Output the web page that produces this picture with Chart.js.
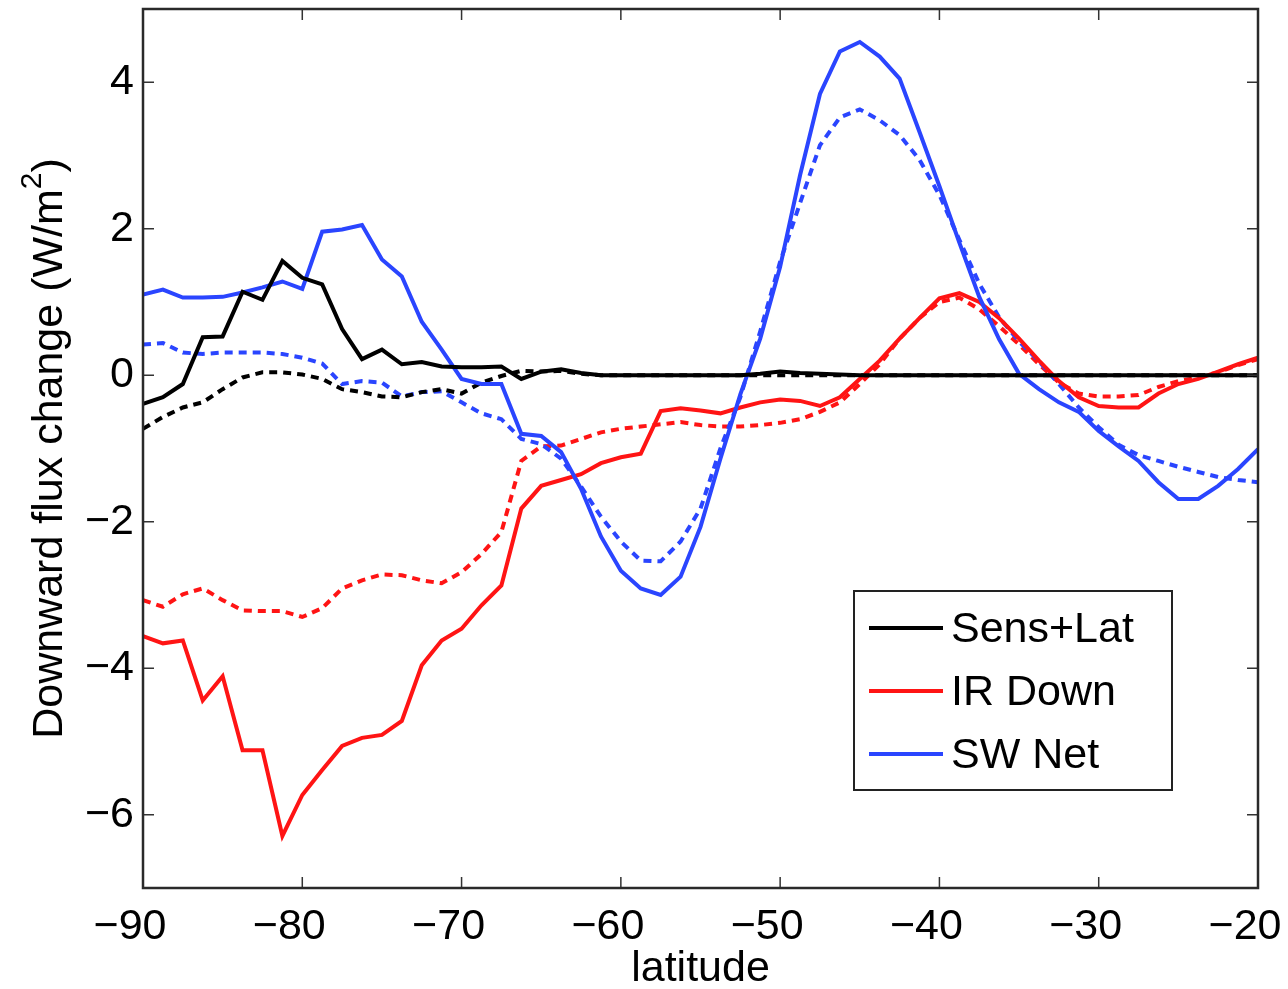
<!DOCTYPE html>
<html lang="en">
<head>
  <meta charset="UTF-8">
  <title>Downward flux change vs latitude</title>
  <script src="https://cdn.jsdelivr.net/npm/chart.js"></script>
  <style>
    html, body { margin: 0; padding: 0; background: #fff; }
    .contenedor { width: 1288px; height: 989px; position: relative; }
  </style>
</head>
<body>
  <div class="contenedor">
    <canvas id="grafico"></canvas>
  </div>

  <script>
    // latitudes (deg)
    const lats = [-90, -88.75, -87.5, -86.25, -85, -83.75, -82.5, -81.25, -80, -78.75,
      -77.5, -76.25, -75, -73.75, -72.5, -71.25, -70, -68.75, -67.5, -66.25,
      -65, -63.75, -62.5, -61.25, -60, -58.75, -57.5, -56.25, -55, -53.75,
      -52.5, -51.25, -50, -48.75, -47.5, -46.25, -45, -43.75, -42.5, -41.25,
      -40, -38.75, -37.5, -36.25, -35, -33.75, -32.5, -31.25, -30, -28.75,
      -27.5, -26.25, -25, -23.75, -22.5, -21.25, -20];

    // solid lines
    const sensLat = [-0.39, -0.30, -0.12, 0.52, 0.53, 1.14, 1.03, 1.56, 1.33, 1.24,
      0.63, 0.22, 0.35, 0.15, 0.18, 0.12, 0.11, 0.11, 0.12, -0.05,
      0.05, 0.08, 0.03, 0, 0, 0, 0, 0, 0, 0,
      0, 0.02, 0.05, 0.03, 0.02, 0.01, 0, 0, 0, 0,
      0, 0, 0, 0, 0, 0, 0, 0, 0, 0,
      0, 0, 0, 0, 0, 0, 0];
    const irDown = [-3.56, -3.66, -3.62, -4.44, -4.11, -5.12, -5.12, -6.29, -5.73, -5.39,
      -5.06, -4.95, -4.91, -4.72, -3.96, -3.62, -3.46, -3.14, -2.87, -1.82,
      -1.51, -1.43, -1.35, -1.20, -1.12, -1.07, -0.49, -0.45, -0.48, -0.52,
      -0.44, -0.37, -0.33, -0.35, -0.42, -0.30, -0.05, 0.20, 0.50, 0.78,
      1.05, 1.12, 1.00, 0.78, 0.50, 0.20, -0.08, -0.30, -0.42, -0.44,
      -0.44, -0.25, -0.12, -0.05, 0.05, 0.15, 0.24];
    const swNet = [1.10, 1.17, 1.06, 1.06, 1.07, 1.13, 1.20, 1.28, 1.18, 1.96,
      1.99, 2.05, 1.58, 1.35, 0.73, 0.35, -0.05, -0.12, -0.12, -0.80,
      -0.83, -1.05, -1.55, -2.20, -2.67, -2.91, -3.00, -2.75, -2.07, -1.14,
      -0.26, 0.50, 1.48, 2.73, 3.84, 4.42, 4.55, 4.35, 4.05, 3.32,
      2.58, 1.81, 1.07, 0.49, 0.02, -0.19, -0.37, -0.50, -0.76, -0.97,
      -1.17, -1.46, -1.69, -1.69, -1.51, -1.28, -1.01];

    // dotted lines
    const sensLatDot = [-0.73, -0.57, -0.44, -0.37, -0.19, -0.03, 0.04, 0.04, 0.01, -0.05,
      -0.19, -0.23, -0.29, -0.30, -0.23, -0.19, -0.25, -0.10, -0.01, 0.06,
      0.05, 0.06, 0.02, 0, 0, 0, 0, 0, 0, 0,
      0, 0, 0, 0, 0, 0, 0, 0, 0, 0,
      0, 0, 0, 0, 0, 0, 0, 0, 0, 0,
      0, 0, 0, 0, 0, 0, 0];
    const irDownDot = [-3.07, -3.16, -2.99, -2.91, -3.07, -3.21, -3.22, -3.22, -3.30, -3.18,
      -2.91, -2.80, -2.72, -2.73, -2.80, -2.84, -2.69, -2.44, -2.14, -1.17,
      -0.97, -0.96, -0.87, -0.78, -0.73, -0.70, -0.67, -0.64, -0.68, -0.70,
      -0.70, -0.68, -0.65, -0.60, -0.50, -0.37, -0.12, 0.15, 0.50, 0.78,
      1.00, 1.06, 0.90, 0.67, 0.42, 0.15, -0.10, -0.25, -0.29, -0.29,
      -0.27, -0.16, -0.08, -0.03, 0.04, 0.14, 0.22];
    const swNetDot = [0.42, 0.44, 0.31, 0.29, 0.31, 0.31, 0.31, 0.29, 0.24, 0.16,
      -0.12, -0.08, -0.10, -0.29, -0.23, -0.22, -0.37, -0.52, -0.60, -0.87,
      -0.94, -1.14, -1.52, -1.93, -2.27, -2.53, -2.54, -2.27, -1.82, -1.00,
      -0.30, 0.60, 1.55, 2.35, 3.14, 3.52, 3.63, 3.48, 3.28, 2.94,
      2.46, 1.85, 1.25, 0.79, 0.46, 0.19, -0.12, -0.44, -0.71, -0.95,
      -1.09, -1.17, -1.25, -1.32, -1.39, -1.43, -1.46];

    const xTicks = [-90, -80, -70, -60, -50, -40, -30, -20];
    const yTicks = [-6, -4, -2, 0, 2, 4];

    const NEGRO = '#000000';
    const ROJO = '#ff1414';
    const AZUL = '#2a45ff';
    const FUENTE = '"Liberation Sans", Arial, Helvetica, sans-serif';

    function puntos(valores) {
      return lats.map((la, i) => ({ x: la, y: valores[i] }));
    }

    function serie(label, valores, color, punteada, orden) {
      return {
        label: label,
        data: puntos(valores),
        borderColor: color,
        backgroundColor: color,
        borderWidth: 4,
        borderDash: punteada ? [8, 6] : [],
        pointRadius: 0,
        tension: 0,
        fill: false,
        order: orden,
        enLeyenda: !punteada
      };
    }

    const menos = v => String(v).replace('-', '\u2212');

    // marco, marcas interiores, títulos y leyenda al estilo MATLAB
    const marcoPlugin = {
      id: 'marco',
      afterDraw(chart) {
        const { ctx, chartArea: a, scales } = chart;
        ctx.save();
        ctx.strokeStyle = '#333';
        ctx.lineWidth = 1.5;
        // marcas
        ctx.beginPath();
        xTicks.forEach(t => {
          const px = scales.x.getPixelForValue(t);
          ctx.moveTo(px, a.bottom); ctx.lineTo(px, a.bottom - 11);
          ctx.moveTo(px, a.top); ctx.lineTo(px, a.top + 11);
        });
        yTicks.forEach(t => {
          const py = scales.y.getPixelForValue(t);
          ctx.moveTo(a.left, py); ctx.lineTo(a.left + 11, py);
          ctx.moveTo(a.right, py); ctx.lineTo(a.right - 11, py);
        });
        ctx.stroke();
        // marco
        ctx.lineWidth = 2.5;
        ctx.strokeStyle = '#2a2a2a';
        ctx.strokeRect(a.left, a.top, a.right - a.left, a.bottom - a.top);

        // título eje x
        ctx.fillStyle = '#000';
        ctx.font = '43px ' + FUENTE;
        ctx.textAlign = 'center';
        ctx.textBaseline = 'middle';
        ctx.fillText('latitude', (a.left + a.right) / 2, 969);

        // título eje y con superíndice
        ctx.save();
        ctx.translate(50, (a.top + a.bottom) / 2);
        ctx.rotate(-Math.PI / 2);
        const p1 = 'Downward flux change (W/m';
        const p2 = '2';
        const p3 = ')';
        ctx.font = '43px ' + FUENTE;
        const w1 = ctx.measureText(p1).width;
        const w3 = ctx.measureText(p3).width;
        ctx.font = '30px ' + FUENTE;
        const w2 = ctx.measureText(p2).width;
        let x0 = -(w1 + w2 + w3) / 2;
        ctx.textAlign = 'left';
        ctx.font = '43px ' + FUENTE;
        ctx.fillText(p1, x0, 0);
        ctx.font = '30px ' + FUENTE;
        ctx.fillText(p2, x0 + w1, -17);
        ctx.font = '43px ' + FUENTE;
        ctx.fillText(p3, x0 + w1 + w2, 0);
        ctx.restore();

        // leyenda
        const caja = { x: 854, y: 591, w: 318, h: 199 };
        ctx.fillStyle = '#fff';
        ctx.fillRect(caja.x, caja.y, caja.w, caja.h);
        ctx.lineWidth = 2;
        ctx.strokeStyle = '#222';
        ctx.strokeRect(caja.x, caja.y, caja.w, caja.h);
        const filas = chart.data.datasets.filter(d => d.enLeyenda);
        filas.forEach((d, i) => {
          const yy = 628 + i * 63;
          ctx.strokeStyle = d.borderColor;
          ctx.lineWidth = 4;
          ctx.setLineDash([]);
          ctx.beginPath();
          ctx.moveTo(869, yy); ctx.lineTo(943, yy);
          ctx.stroke();
          ctx.fillStyle = '#000';
          ctx.font = '43px ' + FUENTE;
          ctx.textAlign = 'left';
          ctx.textBaseline = 'middle';
          ctx.fillText(d.label, 951, yy + 2);
        });
        ctx.restore();
      }
    };

    const ctx = document.getElementById('grafico').getContext('2d');

    const chart = new Chart(ctx, {
      type: 'line',
      data: {
        datasets: [
          serie('Sens+Lat', sensLat, NEGRO, false, 0),
          serie('IR Down', irDown, ROJO, false, 2),
          serie('SW Net', swNet, AZUL, false, 1),
          serie('Sens+Lat (dotted)', sensLatDot, NEGRO, true, 3),
          serie('IR Down (dotted)', irDownDot, ROJO, true, 5),
          serie('SW Net (dotted)', swNetDot, AZUL, true, 4)
        ]
      },
      options: {
        responsive: true,
        maintainAspectRatio: false,
        animation: false,
        layout: { padding: { top: 9, right: 30, left: 0, bottom: 0 } },
        plugins: {
          legend: { display: false },
          tooltip: { enabled: false }
        },
        scales: {
          x: {
            type: 'linear',
            min: -90,
            max: -20,
            afterFit: s => {
              s.height = 101;
              s.paddingLeft = 0;
              s.paddingRight = 0;
            },
            afterBuildTicks: s => { s.ticks = xTicks.map(v => ({ value: v })); },
            grid: { display: false, drawTicks: false },
            border: { display: false },
            ticks: {
              color: '#000',
              padding: 13,
              labelOffset: -13,
              maxRotation: 0,
              font: { family: FUENTE, size: 43 },
              callback: v => menos(v)
            }
          },
          y: {
            min: -7,
            max: 5,
            afterFit: s => {
              s.width = 143;
              s.paddingTop = 0;
              s.paddingBottom = 0;
            },
            afterBuildTicks: s => { s.ticks = yTicks.map(v => ({ value: v })); },
            grid: { display: false, drawTicks: false },
            border: { display: false },
            ticks: {
              color: '#000',
              padding: 9,
              font: { family: FUENTE, size: 43 },
              callback: v => menos(v)
            }
          }
        }
      },
      plugins: [marcoPlugin]
    });
  </script>
</body>
</html>
